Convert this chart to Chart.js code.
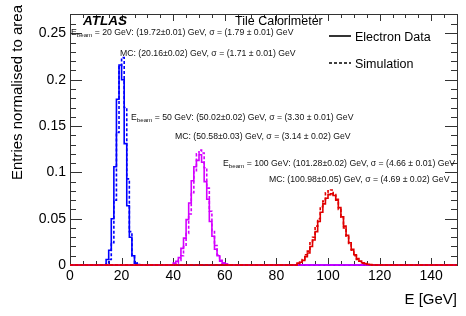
<!DOCTYPE html>
<html>
<head>
<meta charset="utf-8">
<script src="https://cdn.jsdelivr.net/npm/chart.js@4.4.1/dist/chart.umd.min.js"></script>
<style>
  html, body { margin: 0; padding: 0; background: #fff; }
  #wrap { width: 466px; height: 316px; }
</style>
</head>
<body>
<div id="wrap"><canvas id="chart" width="466" height="316"></canvas></div>
<script>
// energy axis, GeV
const xMin = 0;
const xMax = 150;
const yMax = 0.271;

// 1 GeV bins, first low edge given by *Start
const data20Start = 14;
const data20 = [0.006, 0.016, 0.050, 0.106, 0.179, 0.216, 0.200, 0.131, 0.064, 0.030, 0.010, 0.002, 0.0005];
const mc20Start = 14;
const mc20 = [0.001, 0.006, 0.024, 0.070, 0.143, 0.214, 0.224, 0.170, 0.093, 0.036, 0.010, 0.002];

const data50Start = 40;
const data50 = [0.002, 0.004, 0.008, 0.018, 0.029, 0.049, 0.067, 0.091, 0.106, 0.113, 0.119, 0.111, 0.090, 0.071, 0.047, 0.031, 0.017, 0.010, 0.004, 0.002, 0.001];
const mc50Start = 41;
const mc50 = [0.002, 0.005, 0.010, 0.020, 0.034, 0.055, 0.078, 0.101, 0.120, 0.124, 0.121, 0.105, 0.083, 0.058, 0.037, 0.021, 0.011, 0.005, 0.002, 0.001];

const data100Start = 88;
const data100 = [0.002, 0.003, 0.005, 0.009, 0.013, 0.020, 0.027, 0.036, 0.047, 0.057, 0.066, 0.072, 0.076, 0.077, 0.075, 0.070, 0.062, 0.052, 0.042, 0.032, 0.024, 0.017, 0.011, 0.007, 0.004, 0.0025, 0.0015, 0.0008, 0.0004];
const mc100Start = 88;
const mc100 = [0.001, 0.003, 0.006, 0.011, 0.015, 0.024, 0.030, 0.042, 0.050, 0.063, 0.069, 0.078, 0.080, 0.081, 0.076, 0.071, 0.060, 0.052, 0.040, 0.031, 0.022, 0.016, 0.010, 0.006, 0.004, 0.002, 0.0012, 0.0006, 0.0003];

// fit results printed on the plot
const beamEnergies = [20, 50, 100];
const dataFitText = [
  '(19.72\u00b10.01) GeV, \u03c3 = (1.79 \u00b1 0.01) GeV',
  '(50.02\u00b10.02) GeV, \u03c3 = (3.30 \u00b1 0.01) GeV',
  '(101.28\u00b10.02) GeV, \u03c3 = (4.66 \u00b1 0.01) GeV'
];
const mcFitText = [
  'MC: (20.16\u00b10.02) GeV, \u03c3 = (1.71 \u00b1 0.01) GeV',
  'MC: (50.58\u00b10.03) GeV, \u03c3 = (3.14 \u00b1 0.02) GeV',
  'MC: (100.98\u00b10.05) GeV, \u03c3 = (4.69 \u00b1 0.02) GeV'
];

const FONT = '"Liberation Sans", Arial, sans-serif';

// turn bin contents into points for a stepped line (zero outside the bins)
function histPoints(start, values) {
  const pts = [{ x: xMin, y: 0 }];
  values.forEach((v, i) => pts.push({ x: start + i, y: v }));
  pts.push({ x: start + values.length, y: 0 });
  pts.push({ x: xMax, y: 0 });
  return pts;
}

function hist(label, start, values, color, dashed, order) {
  return {
    label: label,
    data: histPoints(start, values),
    borderColor: color,
    borderWidth: 1.6,
    borderDash: dashed ? [3, 2] : [],
    stepped: true,
    pointRadius: 0,
    fill: false,
    clip: false,
    order: order
  };
}

// ROOT-like frame, inward ticks, text
const atlasDecor = {
  id: 'atlasDecor',
  beforeDatasetsDraw(chart) {
    const ctx = chart.ctx;
    const a = chart.chartArea;
    const xs = chart.scales.x;
    const ys = chart.scales.y;
    ctx.save();
    ctx.strokeStyle = '#333';
    ctx.lineWidth = 1;
    ctx.beginPath();
    xs.ticks.forEach(t => {
      const px = Math.round(xs.getPixelForValue(t.value)) + 0.5;
      const len = t.value % 20 === 0 ? 7 : 4;
      ctx.moveTo(px, a.bottom); ctx.lineTo(px, a.bottom - len);
      ctx.moveTo(px, a.top); ctx.lineTo(px, a.top + len);
    });
    ys.ticks.forEach(t => {
      const py = Math.round(ys.getPixelForValue(t.value)) + 0.5;
      const major = Math.round(t.value * 100) % 5 === 0;
      const len = major ? 12 : 6;
      ctx.moveTo(a.left, py); ctx.lineTo(a.left + len, py);
      ctx.moveTo(a.right, py); ctx.lineTo(a.right - len, py);
    });
    ctx.stroke();
    ctx.strokeRect(Math.round(a.left) + 0.5, Math.round(a.top) + 0.5,
      Math.round(a.right - a.left), Math.round(a.bottom - a.top));
    ctx.restore();
  },
  afterDraw(chart) {
    const ctx = chart.ctx;
    const a = chart.chartArea;
    ctx.save();
    ctx.fillStyle = '#000';
    ctx.textBaseline = 'alphabetic';

    ctx.font = 'italic bold 13.5px ' + FONT;
    ctx.fillText('ATLAS', 83, 25);
    ctx.font = '12.5px ' + FONT;
    ctx.fillText('Tile Calorimeter', 235, 25);

    // legend
    ctx.strokeStyle = '#000';
    ctx.lineWidth = 1.6;
    ctx.beginPath(); ctx.moveTo(329, 36); ctx.lineTo(351, 36); ctx.stroke();
    ctx.setLineDash([3, 2]);
    ctx.beginPath(); ctx.moveTo(329, 63); ctx.lineTo(351, 63); ctx.stroke();
    ctx.setLineDash([]);
    ctx.font = '12.5px ' + FONT;
    ctx.fillText('Electron Data', 355, 40.5);
    ctx.fillText('Simulation', 355, 67.5);

    // fit labels (baseline positions)
    const dataPos = [[71, 35], [131, 120], [223, 166]];
    const mcPos = [[120, 55.5], [175, 138.5], [269, 181.5]];
    ctx.fillStyle = '#111';
    beamEnergies.forEach((e, i) => {
      let [x, y] = dataPos[i];
      ctx.font = '8.7px ' + FONT;
      ctx.fillText('E', x, y);
      x += ctx.measureText('E').width;
      ctx.font = '6.2px ' + FONT;
      ctx.fillText('beam', x, y + 2);
      x += ctx.measureText('beam').width;
      ctx.font = '8.7px ' + FONT;
      ctx.fillText(' = ' + e + ' GeV: ' + dataFitText[i], x, y);
      ctx.fillText(mcFitText[i], mcPos[i][0], mcPos[i][1]);
    });

    // axis titles
    ctx.fillStyle = '#000';
    ctx.font = '15px ' + FONT;
    ctx.textAlign = 'right';
    ctx.textBaseline = 'middle';
    ctx.fillText('E [GeV]', a.right, 300);
    ctx.translate(18, 5);
    ctx.rotate(-Math.PI / 2);
    ctx.fillText('Entries normalised to area', 0, 0);
    ctx.restore();
  }
};

new Chart(document.getElementById('chart'), {
  type: 'line',
  data: {
    datasets: [
      hist('Data 100 GeV', data100Start, data100, '#e00000', false, 0),
      hist('MC 100 GeV', mc100Start, mc100, '#e00000', true, 1),
      hist('Data 50 GeV', data50Start, data50, '#d400ff', false, 2),
      hist('MC 50 GeV', mc50Start, mc50, '#d400ff', true, 3),
      hist('Data 20 GeV', data20Start, data20, '#0000ff', false, 4),
      hist('MC 20 GeV', mc20Start, mc20, '#0000ff', true, 5)
    ]
  },
  options: {
    responsive: false,
    animation: false,
    layout: { padding: { top: 14, right: 9, left: 0, bottom: 0 } },
    plugins: {
      legend: { display: false },
      tooltip: { enabled: false }
    },
    scales: {
      x: {
        type: 'linear',
        min: xMin,
        max: xMax,
        afterFit: s => { s.height = 51; },
        grid: { display: false, drawTicks: false },
        border: { display: false },
        ticks: {
          stepSize: 5,
          autoSkip: false,
          maxRotation: 0,
          padding: 3,
          color: '#000',
          font: { family: FONT, size: 14 },
          callback: v => (v % 20 === 0 ? String(v) : '')
        }
      },
      y: {
        min: 0,
        max: yMax,
        afterFit: s => { s.width = 70; },
        grid: { display: false, drawTicks: false },
        border: { display: false },
        ticks: {
          stepSize: 0.01,
          autoSkip: false,
          padding: 4,
          color: '#000',
          font: { family: FONT, size: 14 },
          callback: v => {
            const h = Math.round(v * 100);
            return h % 5 === 0 && h <= 25 ? String(h / 100) : '';
          }
        }
      }
    }
  },
  plugins: [atlasDecor]
});
</script>
</body>
</html>
